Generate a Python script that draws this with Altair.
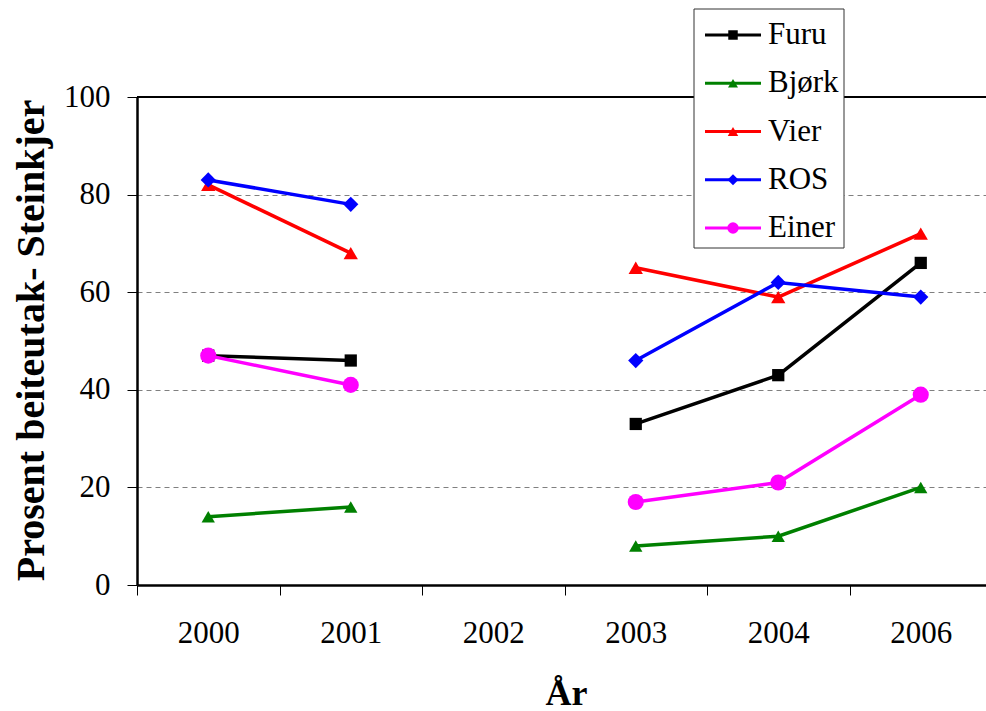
import altair as alt
import pandas as pd

# Browsing share per year and tree species
years = ["2000", "2001", "2002", "2003", "2004", "2006"]
series = ["Furu", "Bjørk", "Vier", "ROS", "Einer"]
furu = [47, 46, None, 33, 43, 66]
bjork = [14, 16, None, 8, 10, 20]
vier = [82, 68, None, 65, 59, 72]
ros = [83, 78, None, 46, 62, 59]
einer = [47, 41, None, 17, 21, 39]

colors = ["#000000", "#008000", "#FF0000", "#0000FF", "#FF00FF"]
shapes = ["square", "triangle-up", "triangle-up", "diamond", "circle"]

rows = []
for name, vals in zip(series, [furu, bjork, vier, ros, einer]):
    for i, (yr, v) in enumerate(zip(years, vals)):
        if v is None:
            continue
        # no survey in 2002: the line is broken there
        seg = "a" if i < years.index("2002") else "b"
        rows.append({"series": name, "year": yr, "value": v, "segment": f"{name}-{seg}"})
df = pd.DataFrame(rows)

FONT = "Times New Roman, Liberation Serif, serif"
W, H = 849, 488
XRANGE = 855

color_scale = alt.Scale(domain=series, range=colors)
shape_scale = alt.Scale(domain=series, range=shapes)

x_enc = alt.X(
    "year:O",
    bandPosition=0.5,
    scale=alt.Scale(type="band", domain=years, range=[0, XRANGE], paddingInner=0, paddingOuter=0),
    axis=alt.Axis(
        title="År", titleFont=FONT, titleFontSize=36, titleFontWeight="bold", titleColor="black",
        titleX=429, titleY=119, titleBaseline="alphabetic", titleAlign="center",
        labelFont=FONT, labelFontSize=31, labelColor="black", labelPadding=23, labelAngle=0,
        tickBand="extent", tickSize=10, tickColor="black", tickWidth=1,
        domainColor="black", domainWidth=2.5, grid=False,
    ),
)
y_enc = alt.Y(
    "value:Q",
    scale=alt.Scale(domain=[0, 100], nice=False),
    axis=alt.Axis(
        values=[0, 20, 40, 60, 80, 100],
        title="Prosent beiteutak- Steinkjer", titleFont=FONT, titleFontSize=40,
        titleFontWeight="bold", titleColor="black", titleX=-94, titleY=243,
        titleAngle=-90, titleBaseline="alphabetic", titleAlign="center",
        labelFont=FONT, labelFontSize=31, labelColor="black", labelPadding=17,
        tickSize=10, tickColor="black", tickWidth=1,
        domainColor="black", domainWidth=2.5,
        grid=True, gridDash=[5, 4], gridColor="#808080", gridWidth=1,
    ),
)

lines = alt.Chart(df).mark_line(strokeWidth=3.5).encode(
    x=x_enc,
    y=y_enc,
    color=alt.Color("series:N", scale=color_scale, legend=None),
    detail="segment:N",
)
points = alt.Chart(df).mark_point(filled=True, opacity=1).encode(
    x=x_enc,
    y=alt.Y("value:Q"),
    color=alt.Color("series:N", scale=color_scale, legend=None),
    shape=alt.Shape("series:N", scale=shape_scale, legend=None),
    size=alt.Size("series:N", scale=alt.Scale(domain=series, range=[150, 260, 260, 200, 150]), legend=None),
)
top_border = alt.Chart(alt.Data(values=[{}])).mark_rule(color="black", strokeWidth=2).encode(
    y=alt.Y(datum=100, scale=alt.Scale(domain=[0, 100], nice=False)),
    x=alt.value(0),
    x2=alt.value(XRANGE),
)

main = alt.layer(lines, points, top_border)

# Legend box drawn as marks in the upper right
leg_df = pd.DataFrame({"series": series})
leg_y = alt.Y("series:N", scale=alt.Scale(type="point", domain=series, range=[-62, 131], padding=0), axis=None)
box = alt.Chart(alt.Data(values=[{}])).mark_rect(fill="white", stroke="#333333", strokeWidth=1).encode(
    x=alt.value(557), x2=alt.value(707), y=alt.value(-88), y2=alt.value(151)
)
leg_lines = alt.Chart(leg_df).mark_rule(strokeWidth=3).encode(
    y=leg_y, x=alt.value(568), x2=alt.value(624),
    color=alt.Color("series:N", scale=color_scale, legend=None),
)
leg_pts = alt.Chart(leg_df).mark_point(filled=True, opacity=1).encode(
    y=leg_y, x=alt.value(596),
    color=alt.Color("series:N", scale=color_scale, legend=None),
    shape=alt.Shape("series:N", scale=shape_scale, legend=None),
    size=alt.Size("series:N", scale=alt.Scale(domain=series, range=[90, 130, 130, 110, 90]), legend=None),
)
leg_text = alt.Chart(leg_df).mark_text(
    align="left", baseline="middle", font=FONT, fontSize=31, color="black"
).encode(y=leg_y, x=alt.value(631), text="series:N")
legend = alt.layer(box, leg_lines, leg_pts, leg_text)

chart = alt.layer(main, legend).resolve_scale(y="independent", size="independent").properties(
    width=W,
    height=H,
    padding={"left": 137, "top": 97, "right": 0, "bottom": 126},
    autosize=alt.AutoSizeParams(type="none"),
    background="white",
).configure_view(stroke=None)

chart.save("out.html", embed_options={"renderer": "svg", "actions": False})
